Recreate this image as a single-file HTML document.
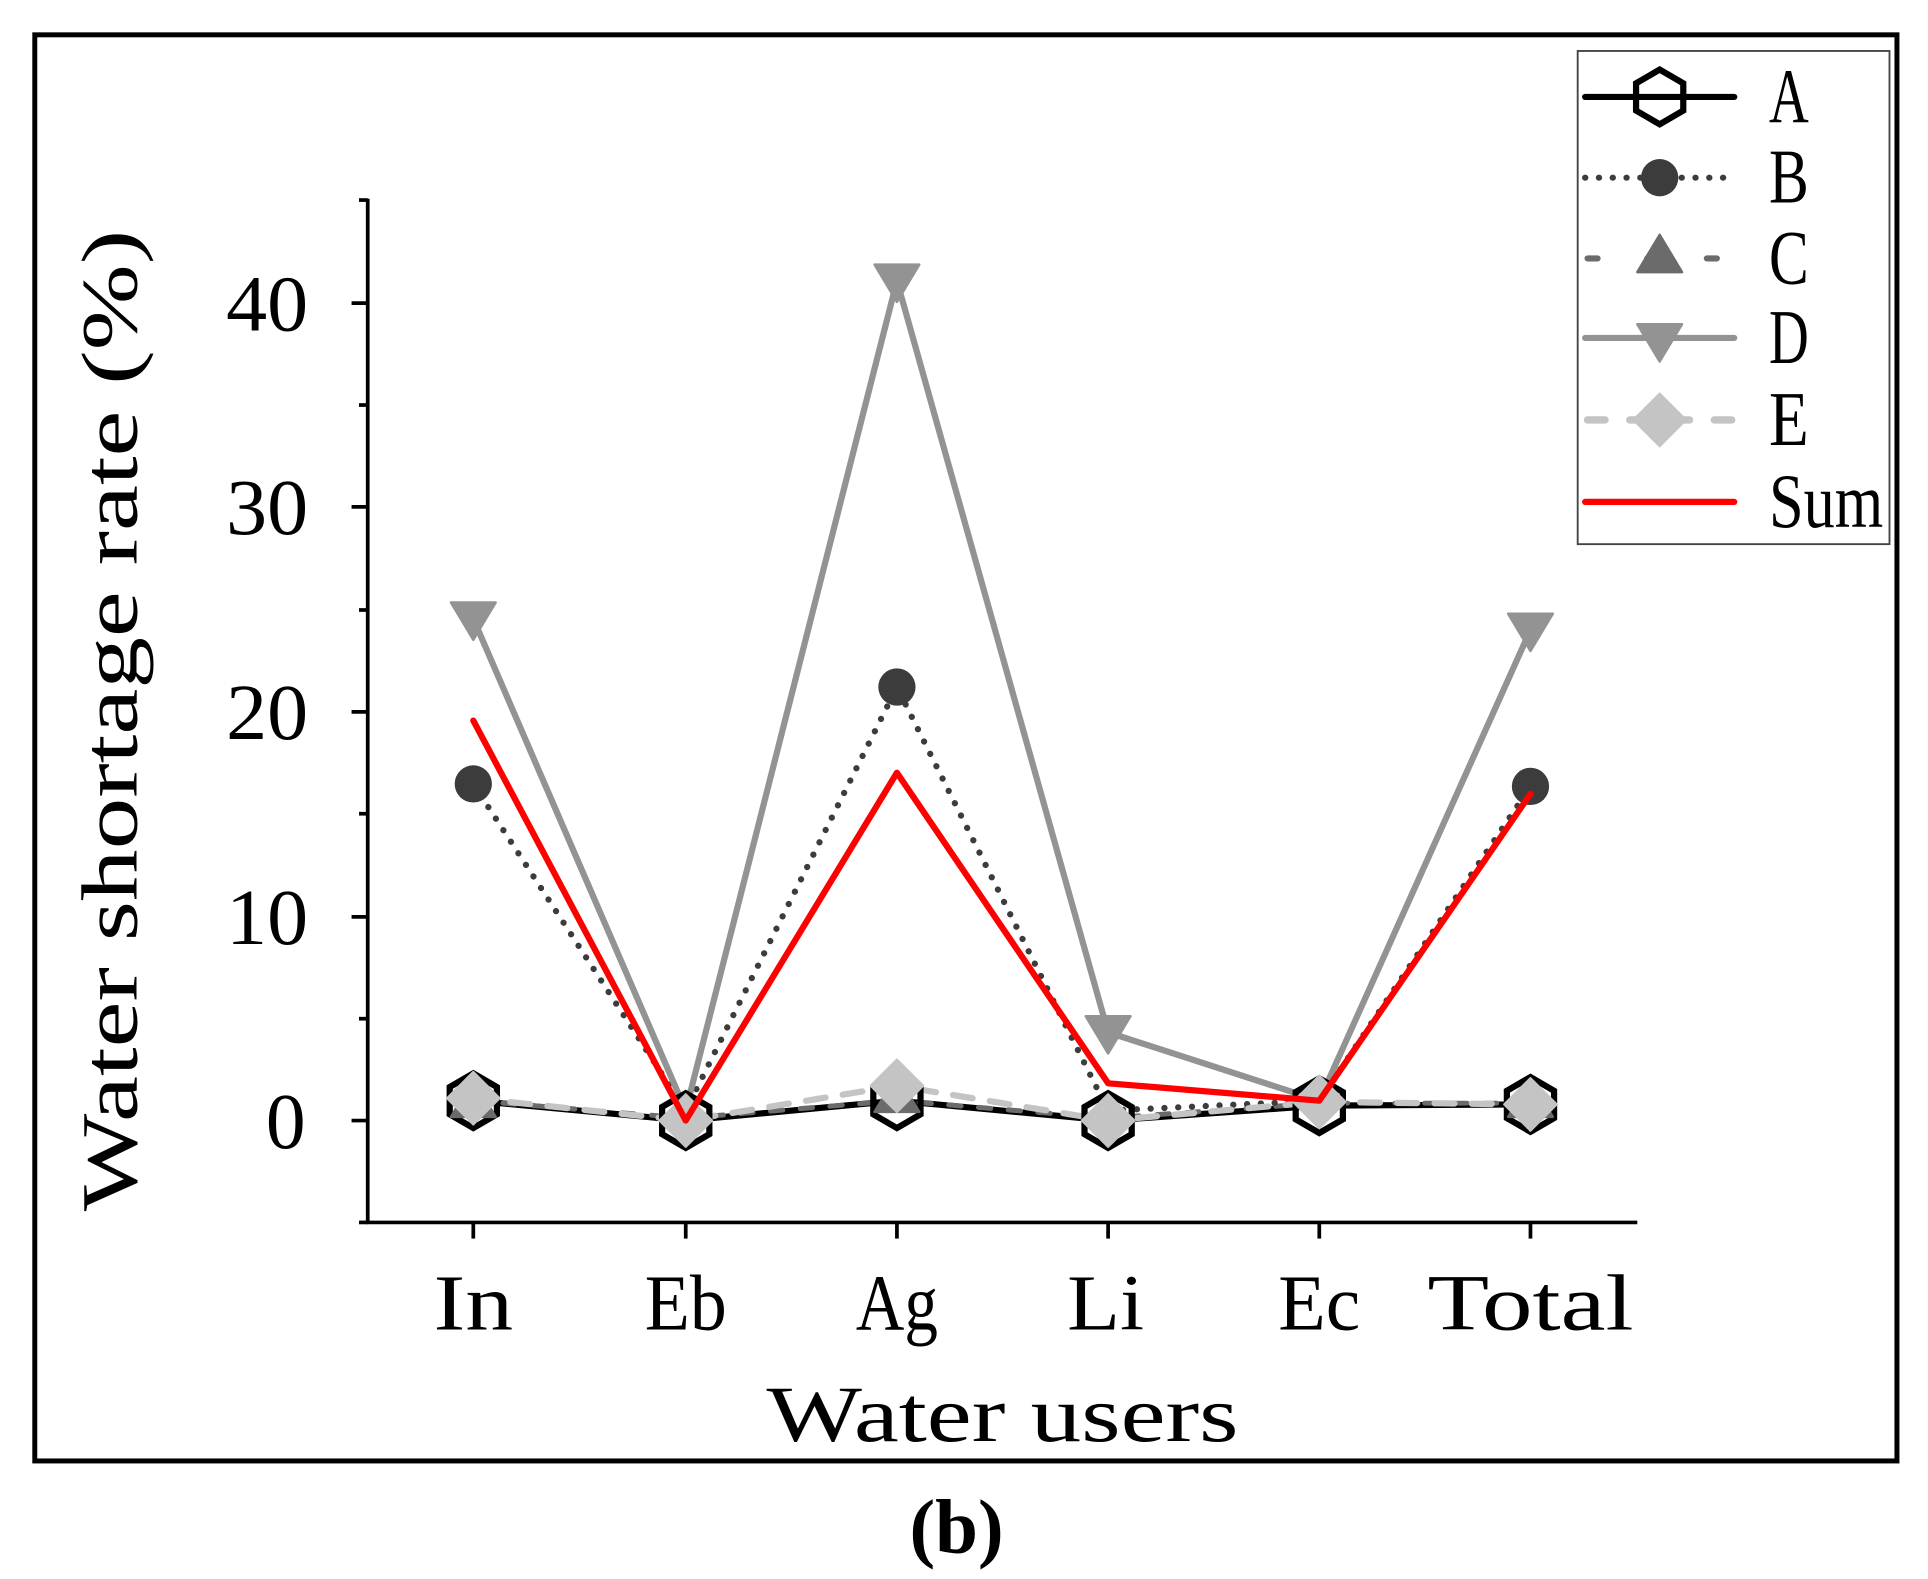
<!DOCTYPE html>
<html><head><meta charset="utf-8"><style>html,body{margin:0;padding:0;background:#fff}svg{display:block}</style></head>
<body>
<svg width="1928" height="1579" viewBox="0 0 1552 1271" xmlns="http://www.w3.org/2000/svg">
<defs>
<g id="hex"><polygon points="0,-22 19,-11 19,11 0,22 -19,11 -19,-11" fill="none" stroke="#000" stroke-width="5" stroke-linejoin="miter"/></g>
<g id="dot"><circle r="15" fill="#3c3c3c"/></g>
<g id="tri"><polygon points="0,-17 18,13 -18,13" fill="#6b6b6b" stroke="#6b6b6b" stroke-width="2" stroke-linejoin="round"/></g>
<g id="itri"><polygon points="0,17 18,-13 -18,-13" fill="#939393" stroke="#939393" stroke-width="2" stroke-linejoin="round"/></g>
<g id="dia"><polygon points="0,-21 21,0 0,21 -21,0" fill="#c4c4c4" stroke="#c4c4c4" stroke-width="2" stroke-linejoin="round"/></g>
</defs>
<rect x="28" y="28" width="1499" height="1148" fill="none" stroke="#000" stroke-width="4"/>
<g stroke="#000" stroke-width="3" fill="none">
<line x1="296" y1="160" x2="296" y2="985"/>
<line x1="295" y1="984" x2="1318" y2="984"/>
<line x1="283" y1="902" x2="296" y2="902"/><line x1="283" y1="738" x2="296" y2="738"/><line x1="283" y1="573" x2="296" y2="573"/><line x1="283" y1="408" x2="296" y2="408"/><line x1="283" y1="244" x2="296" y2="244"/>
<line x1="289" y1="984" x2="296" y2="984"/><line x1="289" y1="820" x2="296" y2="820"/><line x1="289" y1="655" x2="296" y2="655"/><line x1="289" y1="491" x2="296" y2="491"/><line x1="289" y1="326" x2="296" y2="326"/><line x1="289" y1="161" x2="296" y2="161"/>
<line x1="381" y1="984" x2="381" y2="997"/><line x1="552" y1="984" x2="552" y2="997"/><line x1="722" y1="984" x2="722" y2="997"/><line x1="892" y1="984" x2="892" y2="997"/><line x1="1062" y1="984" x2="1062" y2="997"/><line x1="1232" y1="984" x2="1232" y2="997"/>
</g>
<g font-family="Liberation Serif, serif" font-size="64" fill="#000" text-anchor="end">
<text x="246" y="924">0</text>
<text x="248" y="760" textLength="66" lengthAdjust="spacingAndGlyphs">10</text>
<text x="248" y="595" textLength="66" lengthAdjust="spacingAndGlyphs">20</text>
<text x="248" y="430" textLength="66" lengthAdjust="spacingAndGlyphs">30</text>
<text x="248" y="266" textLength="66" lengthAdjust="spacingAndGlyphs">40</text>
</g>
<g font-family="Liberation Serif, serif" font-size="64" fill="#000" text-anchor="middle">
<text x="381" y="1070" textLength="64" lengthAdjust="spacingAndGlyphs">In</text>
<text x="552" y="1070" textLength="66" lengthAdjust="spacingAndGlyphs">Eb</text>
<text x="722" y="1070" textLength="66" lengthAdjust="spacingAndGlyphs">Ag</text>
<text x="890" y="1070" textLength="62" lengthAdjust="spacingAndGlyphs">Li</text>
<text x="1062" y="1070" textLength="66" lengthAdjust="spacingAndGlyphs">Ec</text>
<text x="1232" y="1070" textLength="166" lengthAdjust="spacingAndGlyphs">Total</text>
<text x="807" y="1160" textLength="380" lengthAdjust="spacingAndGlyphs">Water users</text>
<text transform="translate(110,580) rotate(-90)" textLength="790" lengthAdjust="spacingAndGlyphs">Water shortage rate (%)</text>
<text x="770" y="1250" font-size="62" font-weight="bold">(b)</text>
</g>
<g fill="none" stroke-linejoin="round" stroke-linecap="round">
<polyline points="381,886 552,902 722,886 892,902 1062,890 1232,889" stroke="#000" stroke-width="5"/>
<polyline points="381,886 552,900 722,886 892,900 1062,888 1232,888" stroke="#6b6b6b" stroke-width="4" stroke-dasharray="10,14"/>
<polyline points="381,631 552,894 722,553 892,894 1062,886 1232,633" stroke="#3c3c3c" stroke-width="5" stroke-dasharray="0.1,11"/>
<polyline points="381,498 552,894 722,226 892,831 1062,886 1232,507" stroke="#939393" stroke-width="5"/>
<polyline points="381,884 552,902 722,874 892,902 1062,887 1232,889" stroke="#c4c4c4" stroke-width="5" stroke-dasharray="16,14"/>
</g>
<g>
<use href="#hex" x="381" y="886"/><use href="#hex" x="552" y="902"/><use href="#hex" x="722" y="886"/><use href="#hex" x="892" y="902"/><use href="#hex" x="1062" y="890"/><use href="#hex" x="1232" y="889"/>
<use href="#dot" x="381" y="631"/><use href="#dot" x="722" y="553"/><use href="#dot" x="1232" y="633"/>
<use href="#tri" x="381" y="886"/><use href="#tri" x="722" y="882"/><use href="#tri" x="1232" y="886"/>
<use href="#itri" x="381" y="498"/><use href="#itri" x="722" y="226"/><use href="#itri" x="892" y="831"/><use href="#itri" x="1232" y="507"/>
<use href="#dia" x="381" y="884"/><use href="#dia" x="552" y="902"/><use href="#dia" x="722" y="874"/><use href="#dia" x="892" y="902"/><use href="#dia" x="1062" y="887"/><use href="#dia" x="1232" y="889"/>
</g>
<polyline points="381,580 552,902 722,622 892,872 1062,886 1232,639" fill="none" stroke="#ff0000" stroke-width="5" stroke-linejoin="round" stroke-linecap="round"/>
<rect x="1270" y="41" width="251" height="397" fill="#fff" stroke="#444" stroke-width="1.5"/>
<g stroke-linecap="round">
<line x1="1276" y1="78" x2="1396" y2="78" stroke="#000" stroke-width="5"/><use href="#hex" x="1336" y="78"/>
<line x1="1276" y1="143" x2="1396" y2="143" stroke="#3c3c3c" stroke-width="5" stroke-dasharray="0.1,11"/><use href="#dot" x="1336" y="143"/>
<line x1="1278" y1="208" x2="1396" y2="208" stroke="#6b6b6b" stroke-width="5" stroke-dasharray="8,40"/><use href="#tri" x="1336" y="206"/>
<line x1="1276" y1="272" x2="1396" y2="272" stroke="#939393" stroke-width="5"/><use href="#itri" x="1336" y="274"/>
<line x1="1278" y1="338" x2="1396" y2="338" stroke="#c4c4c4" stroke-width="6" stroke-dasharray="14,20"/><use href="#dia" x="1336" y="338"/>
<line x1="1276" y1="404" x2="1396" y2="404" stroke="#ff0000" stroke-width="5"/>
</g>
<g font-family="Liberation Serif, serif" font-size="62" fill="#000">
<text x="1424" y="98" textLength="32" lengthAdjust="spacingAndGlyphs">A</text>
<text x="1424" y="163" textLength="32" lengthAdjust="spacingAndGlyphs">B</text>
<text x="1424" y="228" textLength="32" lengthAdjust="spacingAndGlyphs">C</text>
<text x="1424" y="292" textLength="32" lengthAdjust="spacingAndGlyphs">D</text>
<text x="1424" y="358" textLength="32" lengthAdjust="spacingAndGlyphs">E</text>
<text x="1424" y="424" textLength="92" lengthAdjust="spacingAndGlyphs">Sum</text>
</g>
</svg>
</body></html>
